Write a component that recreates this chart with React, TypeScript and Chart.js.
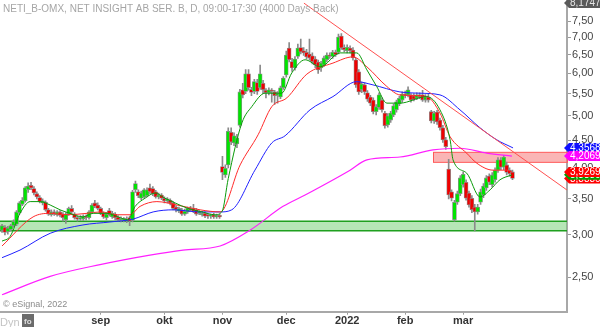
import React, { useEffect, useRef } from 'react';
import { Chart, registerables } from 'chart.js';
Chart.register(...registerables);

const chartTitle = 'NETI_B-OMX, NET INSIGHT AB SER. B, D, 09:00-17:30 (4000 Days Back)';
const copyright = '\u00a9 eSignal, 2022';
const monthLabels = ['sep', 'okt', 'nov', 'dec', '2022', 'feb', 'mar'];
const monthIndex = [34, 56, 76, 98, 119, 139, 159];
const yTicks = [2.5, 3.0, 3.5, 4.0, 4.5, 5.0, 5.5, 6.0, 6.5, 7.0, 7.5];

const openP = [
  3.06, 3.10, 3.04, 3.07, 3.12, 3.14, 3.30, 3.42, 3.47, 3.64, 3.71, 3.66, 3.58, 3.52, 3.44, 3.45, 3.34, 3.27, 3.31, 3.27,
  3.31, 3.28, 3.20, 3.28, 3.36, 3.28, 3.22, 3.21, 3.21, 3.25, 3.23, 3.31, 3.44, 3.41, 3.36, 3.29, 3.23, 3.33, 3.24, 3.28,
  3.24, 3.19, 3.20, 3.18, 3.23, 3.19, 3.64, 3.61, 3.51, 3.53, 3.55, 3.67, 3.66, 3.61, 3.53, 3.56, 3.51, 3.47, 3.48, 3.44,
  3.38, 3.32, 3.34, 3.28, 3.31, 3.35, 3.36, 3.34, 3.29, 3.27, 3.29, 3.26, 3.25, 3.27, 3.24, 3.25, 4.02, 3.88, 4.05, 4.66,
  4.45, 4.43, 4.80, 5.59, 5.55, 5.99, 5.60, 5.55, 5.77, 5.64, 5.75, 5.58, 5.52, 5.57, 5.54, 5.46, 5.42, 5.64, 5.96, 6.69,
  6.31, 6.14, 6.45, 6.70, 6.61, 6.57, 6.52, 6.47, 6.38, 6.30, 6.14, 6.22, 6.36, 6.49, 6.45, 6.57, 6.57, 7.04, 6.70, 6.61,
  6.69, 6.63, 6.36, 6.04, 5.59, 5.71, 5.52, 5.42, 5.35, 5.09, 5.18, 5.35, 5.06, 4.81, 4.91, 5.02, 5.13, 5.26, 5.35, 5.49,
  5.47, 5.47, 5.45, 5.40, 5.47, 5.47, 5.35, 5.42, 5.09, 4.89, 5.08, 4.91, 4.75, 4.51, 3.98, 3.61, 3.20, 3.45, 3.58, 3.72,
  3.76, 3.59, 3.51, 3.38, 3.31, 3.45, 3.56, 3.67, 3.86, 3.72, 3.80, 3.96, 4.14, 4.01, 4.05, 3.96, 3.93
];
const closeP = [
  3.12, 3.03, 3.09, 3.12, 3.18, 3.31, 3.44, 3.48, 3.67, 3.70, 3.67, 3.59, 3.53, 3.46, 3.47, 3.34, 3.28, 3.31, 3.28, 3.31,
  3.26, 3.23, 3.28, 3.36, 3.31, 3.23, 3.21, 3.22, 3.25, 3.23, 3.31, 3.41, 3.39, 3.36, 3.29, 3.24, 3.28, 3.27, 3.29, 3.23,
  3.20, 3.21, 3.21, 3.21, 3.18, 3.61, 3.74, 3.55, 3.59, 3.64, 3.64, 3.61, 3.58, 3.53, 3.56, 3.51, 3.47, 3.50, 3.44, 3.36,
  3.34, 3.36, 3.28, 3.32, 3.36, 3.34, 3.32, 3.28, 3.30, 3.29, 3.25, 3.25, 3.26, 3.24, 3.25, 3.24, 3.92, 3.99, 4.68, 4.47,
  4.59, 4.55, 5.54, 5.47, 5.99, 5.64, 5.53, 5.79, 5.55, 5.99, 5.59, 5.52, 5.59, 5.55, 5.45, 5.47, 5.64, 5.88, 6.49, 6.36,
  6.14, 6.38, 6.69, 6.58, 6.55, 6.44, 6.41, 6.31, 6.22, 6.09, 6.27, 6.41, 6.49, 6.45, 6.57, 6.50, 7.01, 6.69, 6.64, 6.71,
  6.61, 6.41, 5.71, 5.54, 5.73, 5.54, 5.37, 5.28, 5.09, 5.20, 5.47, 5.13, 4.79, 5.00, 5.06, 5.22, 5.31, 5.39, 5.49, 5.45,
  5.59, 5.35, 5.37, 5.47, 5.43, 5.35, 5.42, 5.35, 4.89, 5.06, 4.87, 4.75, 4.51, 4.38, 3.56, 3.51, 3.45, 3.58, 3.83, 3.89,
  3.51, 3.41, 3.34, 3.31, 3.38, 3.61, 3.70, 3.83, 3.76, 3.88, 3.96, 4.14, 4.01, 4.19, 3.92, 3.90, 3.82
];
const highP = [
  3.14, 3.12, 3.11, 3.14, 3.20, 3.33, 3.46, 3.52, 3.69, 3.75, 3.76, 3.69, 3.61, 3.55, 3.50, 3.47, 3.36, 3.34, 3.34, 3.33,
  3.33, 3.30, 3.30, 3.38, 3.40, 3.30, 3.25, 3.26, 3.27, 3.27, 3.33, 3.43, 3.48, 3.44, 3.38, 3.31, 3.30, 3.36, 3.32, 3.30,
  3.26, 3.24, 3.23, 3.24, 3.25, 3.63, 3.78, 3.64, 3.62, 3.66, 3.67, 3.73, 3.69, 3.63, 3.59, 3.58, 3.53, 3.52, 3.50, 3.46,
  3.40, 3.38, 3.36, 3.35, 3.38, 3.39, 3.42, 3.36, 3.33, 3.32, 3.31, 3.29, 3.28, 3.29, 3.28, 3.28, 4.20, 4.05, 4.75, 4.75,
  4.65, 4.62, 5.60, 5.75, 6.10, 6.10, 5.65, 5.85, 5.85, 6.22, 5.82, 5.62, 5.64, 5.62, 5.58, 5.55, 5.68, 5.92, 6.60, 6.85,
  6.40, 6.45, 6.80, 6.95, 6.70, 6.65, 6.95, 6.55, 6.45, 6.35, 6.32, 6.46, 6.55, 6.55, 6.62, 6.63, 7.10, 7.12, 6.78, 6.78,
  6.75, 6.70, 6.40, 6.10, 5.78, 5.76, 5.57, 5.46, 5.40, 5.25, 5.52, 5.40, 5.10, 5.05, 5.10, 5.26, 5.35, 5.44, 5.54, 5.56,
  5.66, 5.50, 5.50, 5.52, 5.52, 5.58, 5.48, 5.50, 5.12, 5.10, 5.12, 4.95, 4.80, 4.56, 4.15, 3.64, 3.48, 3.62, 3.87, 3.93,
  3.80, 3.62, 3.55, 3.42, 3.42, 3.65, 3.74, 3.87, 3.90, 3.92, 4.00, 4.18, 4.18, 4.22, 4.10, 4.00, 3.96
];
const lowP = [
  3.03, 3.00, 3.01, 3.05, 3.10, 3.12, 3.28, 3.40, 3.45, 3.60, 3.64, 3.56, 3.50, 3.44, 3.41, 3.32, 3.26, 3.25, 3.26, 3.25,
  3.24, 3.18, 3.15, 3.26, 3.29, 3.21, 3.18, 3.19, 3.19, 3.20, 3.21, 3.29, 3.37, 3.34, 3.27, 3.22, 3.20, 3.25, 3.22, 3.20,
  3.18, 3.17, 3.17, 3.16, 3.12, 3.17, 3.60, 3.52, 3.49, 3.51, 3.53, 3.58, 3.55, 3.51, 3.50, 3.49, 3.44, 3.44, 3.41, 3.34,
  3.31, 3.30, 3.26, 3.26, 3.29, 3.32, 3.30, 3.26, 3.27, 3.25, 3.23, 3.22, 3.22, 3.22, 3.22, 3.22, 3.80, 3.84, 4.00, 4.42,
  4.40, 4.36, 4.76, 5.40, 5.50, 5.58, 5.45, 5.50, 5.48, 5.60, 5.50, 5.40, 5.47, 5.30, 5.25, 5.28, 5.38, 5.60, 5.90, 6.30,
  6.05, 6.08, 6.40, 6.52, 6.48, 6.38, 6.35, 6.25, 6.15, 6.00, 6.05, 6.18, 6.30, 6.40, 6.40, 6.45, 6.52, 6.65, 6.58, 6.55,
  6.55, 6.35, 5.65, 5.48, 5.52, 5.48, 5.32, 5.22, 5.04, 5.02, 5.14, 5.08, 4.74, 4.76, 4.86, 4.98, 5.08, 5.22, 5.30, 5.40,
  5.42, 5.30, 5.33, 5.36, 5.38, 5.32, 5.30, 5.30, 4.85, 4.84, 4.82, 4.70, 4.46, 4.33, 3.50, 3.47, 3.18, 3.42, 3.55, 3.68,
  3.48, 3.38, 3.30, 3.05, 3.28, 3.42, 3.52, 3.63, 3.72, 3.68, 3.76, 3.92, 3.97, 3.97, 3.88, 3.86, 3.80
];

// moving averages (bar index, value)
const maGreenX = [0, 2.8, 6.2, 9.7, 13.1, 16.6, 20, 23.4, 27.9, 31.4, 36.2, 40, 43.4, 45.9, 49.3, 52.8, 56.2, 59.7, 64.1, 69, 73.4, 75.9, 78, 82.7, 86.1, 90.7, 96.4, 99.9, 104.5, 109.7, 116.6, 122.3, 125.8, 129.2, 132.7, 137.2, 146.4, 151, 154.5, 155.5, 160.2, 164.8, 168.3, 171.7, 175.8];
const maGreenY = [2.92, 2.98, 3.29, 3.46, 3.46, 3.41, 3.34, 3.29, 3.24, 3.29, 3.29, 3.24, 3.20, 3.39, 3.51, 3.59, 3.51, 3.44, 3.36, 3.31, 3.27, 3.32, 3.82, 4.85, 5.20, 5.51, 5.51, 6.01, 6.36, 6.17, 6.55, 6.55, 6.09, 5.67, 5.28, 5.28, 5.43, 5.13, 4.51, 4.14, 3.91, 3.53, 3.64, 3.80, 3.88];
const maRedX = [0, 10.7, 16.6, 22.4, 29.3, 33.8, 39.7, 44.1, 47.6, 53.4, 60.3, 68.3, 75.2, 82.1, 88.3, 93, 98.2, 105.1, 114.1, 121, 125.8, 132.7, 137.2, 146.4, 151, 154.5, 160.2, 163.7, 169.3, 174, 175.8];
const maRedY = [2.86, 3.24, 3.29, 3.27, 3.29, 3.31, 3.27, 3.27, 3.39, 3.46, 3.41, 3.34, 3.31, 4.05, 4.61, 5.20, 5.40, 5.98, 6.27, 6.44, 6.17, 5.67, 5.47, 5.43, 5.06, 4.57, 4.26, 4.08, 3.96, 3.96, 3.93];
const maBlueX = [0, 6.2, 16.6, 27.9, 37.2, 45.2, 52.1, 59, 68.3, 75.2, 79.2, 87.2, 93, 97.6, 106.2, 114.1, 122.3, 127.9, 137.2, 144.1, 151, 157.9, 164.8, 170.6, 176.2];
const maBlueY = [2.72, 2.81, 3.02, 3.13, 3.17, 3.21, 3.31, 3.34, 3.31, 3.31, 3.34, 3.96, 4.45, 4.59, 5.13, 5.43, 5.79, 5.71, 5.54, 5.51, 5.47, 5.13, 4.75, 4.51, 4.3568];
const maMagentaX = [0, 16.6, 33.8, 51, 62.4, 75.2, 85.5, 96.9, 104.5, 120, 125.8, 137.2, 148.6, 157.9, 167.1, 175.8];
const maMagentaY = [2.32, 2.51, 2.64, 2.75, 2.81, 2.86, 3.06, 3.39, 3.56, 3.96, 4.14, 4.19, 4.32, 4.35, 4.26, 4.2069];

const trendX = [104.1, 194.8];
const trendY = [8.11, 3.636];
const supportZone = [3.054, 3.18];
const resistZone = [4.095, 4.275];
const resistStart = 148.6;

const tagValues = [8.1747, 4.3568, 4.2069, 3.82, 3.883, 3.9269];
const tagTexts = ['8,1747', '4,3568', '4,2069', '3,8830', '3,8830', '3,9269'];
const tagColors = ['#5a5a5a', '#1010ff', '#ff00ff', '#ff0000', '#00a000', '#ff0000'];

const FONT = 'Liberation Sans, Arial, sans-serif';

const overlayPlugin = {
  id: 'overlay',
  beforeDatasetsDraw(chart: any) {
    const { ctx, chartArea, scales } = chart;
    const x = scales.x, y = scales.y;
    ctx.save();
    const sTop = y.getPixelForValue(supportZone[1]);
    const sBot = y.getPixelForValue(supportZone[0]);
    ctx.fillStyle = 'rgba(110,205,110,0.5)';
    ctx.fillRect(chartArea.left, sTop, chartArea.right - chartArea.left, sBot - sTop);
    ctx.strokeStyle = '#1fa01f';
    ctx.lineWidth = 1.5;
    ctx.beginPath();
    ctx.moveTo(chartArea.left, sTop); ctx.lineTo(chartArea.right, sTop);
    ctx.moveTo(chartArea.left, sBot); ctx.lineTo(chartArea.right, sBot);
    ctx.stroke();
    const rTop = y.getPixelForValue(resistZone[1]);
    const rBot = y.getPixelForValue(resistZone[0]);
    const rx = x.getPixelForValue(resistStart);
    ctx.fillStyle = 'rgba(245,120,120,0.55)';
    ctx.fillRect(rx, rTop, chartArea.right - rx, rBot - rTop);
    ctx.strokeStyle = '#ff5a5a';
    ctx.lineWidth = 1;
    ctx.strokeRect(rx + 0.5, rTop, chartArea.right - rx, rBot - rTop);
    ctx.restore();
  },
  afterDraw(chart: any) {
    const { ctx, chartArea, scales } = chart;
    const y = scales.y;
    ctx.save();
    ctx.font = `10px ${FONT}`;
    ctx.fillStyle = '#a6a6a6';
    ctx.textBaseline = 'alphabetic';
    ctx.textAlign = 'left';
    ctx.fillText(chartTitle, 3, 12);
    ctx.font = `9px ${FONT}`;
    ctx.fillStyle = '#8c8c8c';
    ctx.fillText(copyright, 3, 307);
    ctx.font = `11px ${FONT}`;
    ctx.fillStyle = '#c4c4c4';
    ctx.fillText('Dyn', 0, 326);
    ctx.fillStyle = '#6b6b6b';
    ctx.fillRect(22, 314, 12, 13);
    ctx.fillStyle = '#e0e0e0';
    ctx.font = `bold 8px ${FONT}`;
    ctx.fillText('fo', 24, 324);
    const left = chartArea.right - 3;
    const h = 10;
    ctx.font = `10px ${FONT}`;
    ctx.textBaseline = 'middle';
    for (let i = 0; i < tagValues.length; i++) {
      const cy = Math.max(y.getPixelForValue(tagValues[i]), 3);
      ctx.fillStyle = tagColors[i];
      ctx.beginPath();
      ctx.moveTo(left, cy);
      ctx.lineTo(left + 5, cy - h / 2);
      ctx.lineTo(600, cy - h / 2);
      ctx.lineTo(600, cy + h / 2);
      ctx.lineTo(left + 5, cy + h / 2);
      ctx.closePath();
      ctx.fill();
      ctx.fillStyle = i === 0 ? '#e6e6e6' : '#ffffff';
      ctx.fillText(tagTexts[i], left + 6, cy + 0.5);
    }
    ctx.restore();
  },
};

export default function App() {
  const ref = useRef<HTMLCanvasElement | null>(null);
  useEffect(() => {
    document.body.style.margin = '0';
    const canvas = ref.current;
    if (!canvas) return;
    const bodies = closeP.map((c, i) => ({ x: i, y: [openP[i], c] }));
    const wicks = closeP.map((_c, i) => ({ x: i, y: [lowP[i], highP[i]] }));
    const bodyColors = closeP.map((c, i) => (c >= openP[i] ? '#00e400' : '#ee0000'));
    const line = (xs: number[], ys: number[]) => xs.map((v, i) => ({ x: v, y: ys[i] }));
    const chart = new Chart(canvas, {
      type: 'bar',
      data: {
        datasets: [
          { type: 'line', data: line(trendX, trendY), borderColor: '#ff5050', borderWidth: 1, pointRadius: 0, order: 0 } as any,
          { type: 'line', data: line(maGreenX, maGreenY), borderColor: '#0a9a0a', borderWidth: 1, pointRadius: 0, cubicInterpolationMode: 'monotone', order: 1 } as any,
          { type: 'line', data: line(maRedX, maRedY), borderColor: '#ff2a2a', borderWidth: 1, pointRadius: 0, cubicInterpolationMode: 'monotone', order: 2 } as any,
          { type: 'line', data: line(maBlueX, maBlueY), borderColor: '#2020ff', borderWidth: 1, pointRadius: 0, cubicInterpolationMode: 'monotone', order: 3 } as any,
          { type: 'line', data: line(maMagentaX, maMagentaY), borderColor: '#ff20ff', borderWidth: 1.2, pointRadius: 0, cubicInterpolationMode: 'monotone', order: 4 } as any,
          { type: 'bar', data: bodies, backgroundColor: bodyColors, borderColor: '#8f8f8f', borderWidth: 0.8, borderSkipped: false, barThickness: 4, grouped: false, minBarLength: 1.5, order: 10 } as any,
          { type: 'bar', data: wicks, backgroundColor: '#8a8a8a', barThickness: 1, grouped: false, order: 11 } as any,
        ],
      },
      options: {
        responsive: false,
        animation: false,
        devicePixelRatio: 1,
        layout: { padding: 0 },
        plugins: { legend: { display: false }, tooltip: { enabled: false } },
        scales: {
          x: {
            type: 'linear',
            min: -0.7,
            max: 194.8,
            offset: false,
            afterBuildTicks: (s: any) => { s.ticks = monthIndex.map((v) => ({ value: v })); },
            afterFit: (s: any) => { s.height = 15.3; s.paddingLeft = 0; s.paddingRight = 0; },
            ticks: {
              autoSkip: false,
              maxRotation: 0,
              padding: 0,
              color: '#333333',
              font: { family: FONT, size: 11, weight: 'bold' },
              callback: (v: any) => { const k = monthIndex.indexOf(Number(v)); return k >= 0 ? monthLabels[k] : ''; },
            },
            grid: { drawOnChartArea: false, offset: false, tickLength: 3, color: '#9a9a9a' },
            border: { color: '#a8a8a8', width: 2 },
          },
          y: {
            type: 'logarithmic',
            position: 'right',
            min: 2.157,
            max: 8.22,
            afterBuildTicks: (s: any) => { s.ticks = yTicks.map((v) => ({ value: v })); },
            afterFit: (s: any) => { s.width = 33; s.paddingTop = 0; s.paddingBottom = 0; },
            ticks: {
              autoSkip: false,
              padding: 1,
              color: '#454545',
              font: { family: FONT, size: 11 },
              callback: (v: any) => Number(v).toFixed(2).replace('.', ','),
            },
            grid: { drawOnChartArea: false, tickLength: 4, color: '#9a9a9a' },
            border: { color: '#a8a8a8', width: 2 },
          },
        },
      } as any,
      plugins: [overlayPlugin],
    });
    return () => chart.destroy();
  }, []);
  return (
    <div style={{ width: 600, height: 327, background: '#ffffff' }}>
      <canvas ref={ref} width={600} height={327} style={{ display: 'block' }} />
    </div>
  );
}
